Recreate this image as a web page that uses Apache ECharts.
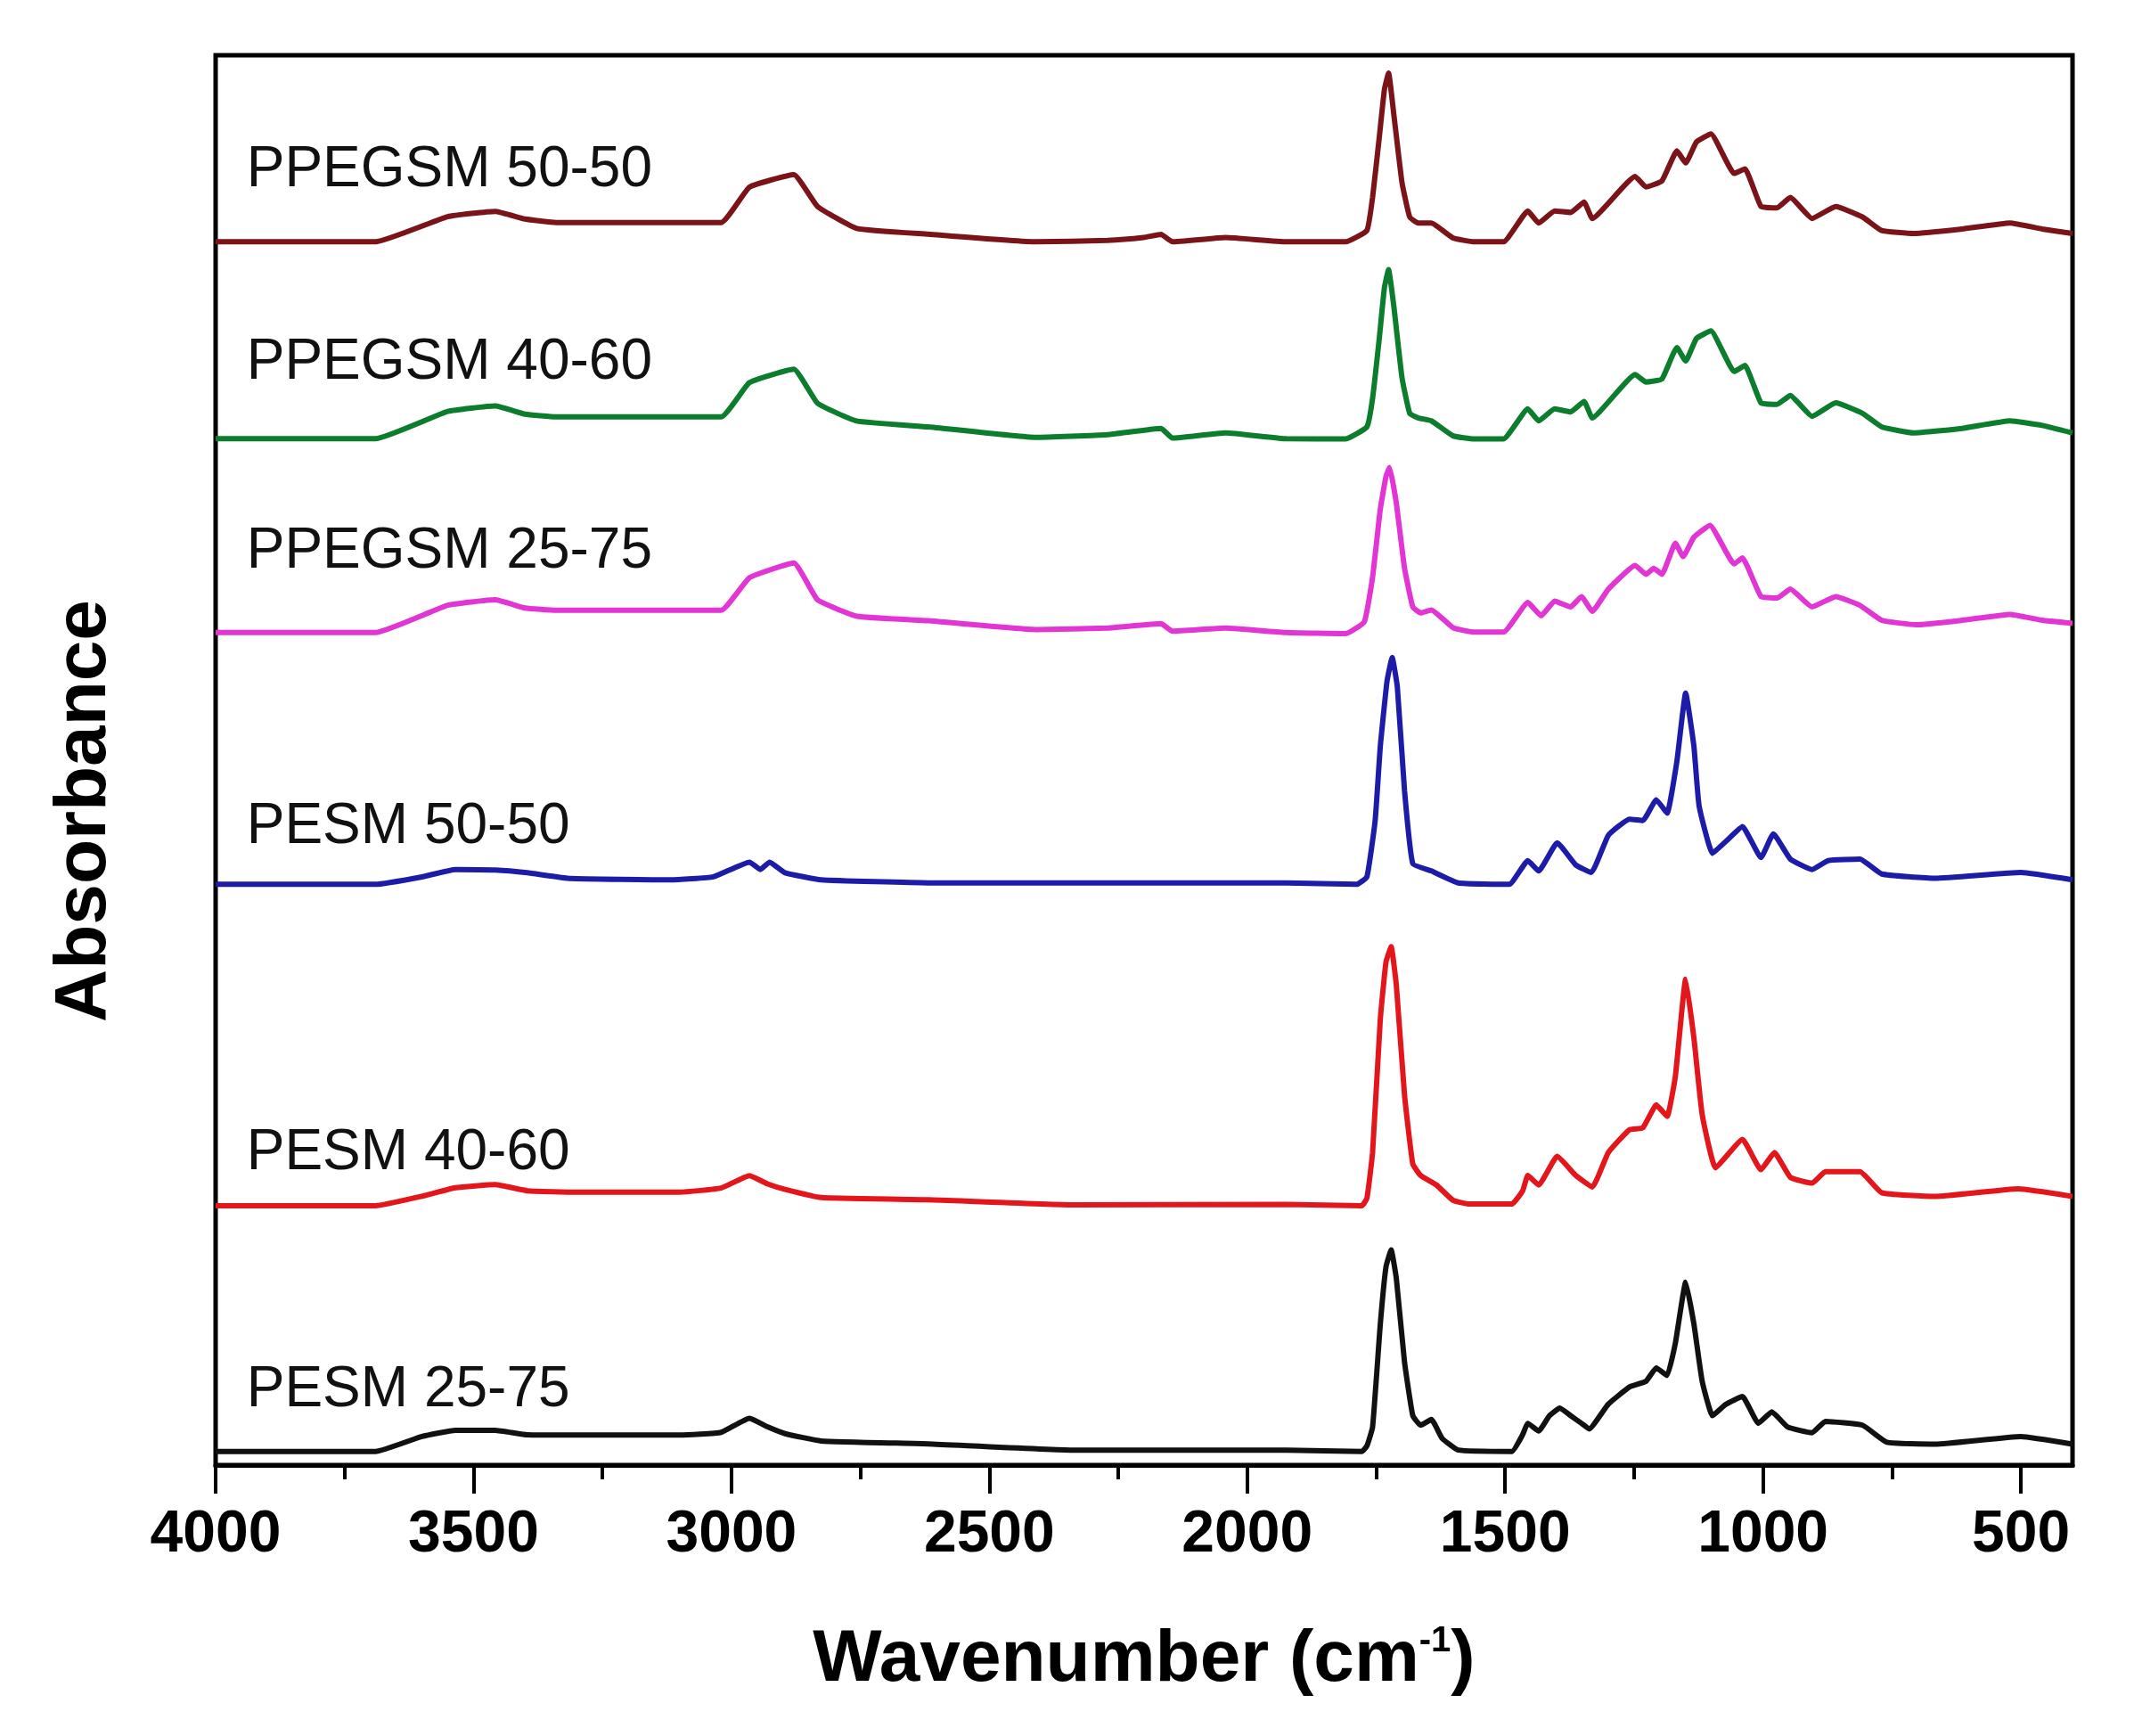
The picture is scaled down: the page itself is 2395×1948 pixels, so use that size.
<!DOCTYPE html>
<html>
<head>
<meta charset="utf-8">
<title>FTIR spectra</title>
<script src="https://cdn.jsdelivr.net/npm/echarts@6/dist/echarts.min.js"></script>
<style>
	html, body { margin: 0; padding: 0; background: #fff; }
	#box { width: 2395px; height: 1948px; }
</style>
</head>
<body>
<div id="box"></div>
<script>
// [wavenumber (cm-1), absorbance (a.u., spectra stacked)]
var ppegsm5050 = [[4000,896.3],[3690,896.3],[3550,914.7],[3458,918.6],[3400,913],[3340,910.4],[3020,910.4],[2965,936.4],[2879,945.5],[2833,922.2],[2757,906.1],[2618,901.9],[2410,896.3],[2271,897.4],[2201,899.5],[2167,901.7],[2145,896.3],[2042,899.5],[1924,896.3],[1809,896.3],[1768,904.6],[1757,928.8],[1744,972.8],[1734,1007.9],[1726,1020],[1716,990.3],[1700,939.8],[1685,914.5],[1669,910.1],[1643,910.1],[1601,899.1],[1560,896.3],[1503,896.3],[1456,918.9],[1435,910.1],[1404,918.9],[1373,917.8],[1347,925.5],[1331,913.4],[1248,944.2],[1227,936.5],[1196,940.9],[1167,962.9],[1150,954.1],[1129,969.5],[1101,975.4],[1056,946.4],[1035,949.7],[1004,922.2],[973,921.1],[947,928.8],[905,913.4],[859,922.2],[807,914.5],[770,904.6],[708,902.4],[614,905.7],[521,910.1],[459,905.7],[400,902.4]];
var ppegsm4060 = [[4000,752],[3690,752],[3550,772],[3458,776],[3400,770],[3340,768],[3020,768],[2965,793.2],[2879,803],[2833,778],[2757,765],[2618,760.7],[2410,753],[2271,755],[2167,759.6],[2145,752.5],[2042,756.3],[1924,752],[1809,751.9],[1768,760.7],[1757,781.6],[1744,825.5],[1734,862.9],[1726,876],[1716,849.7],[1700,796.9],[1685,770.6],[1669,767.3],[1643,765.1],[1601,754.1],[1560,751.9],[1503,751.9],[1456,773.9],[1435,765.1],[1404,773.9],[1373,771.7],[1347,779.4],[1331,767.3],[1248,799.1],[1227,793.6],[1196,795.8],[1167,818.9],[1150,809],[1129,825.5],[1101,831],[1056,801.3],[1035,805.7],[1004,778.3],[973,777.2],[947,783.7],[905,768.4],[859,778.3],[807,770.6],[770,760.7],[708,756.3],[614,759.6],[521,765.1],[459,761.8],[400,756.3]];
var ppegsm2575 = [[4000,610],[3690,610],[3550,630],[3458,634],[3400,628],[3340,626.3],[3020,626.3],[2965,650.2],[2879,661],[2833,634],[2757,622],[2618,618.7],[2410,612.2],[2271,613.3],[2167,616.5],[2145,611],[2042,613.3],[1924,610],[1809,609.2],[1773,617.9],[1757,650.5],[1742,700.5],[1731,724.4],[1724,731],[1711,704.9],[1695,657],[1679,628.8],[1664,624.4],[1643,626.6],[1601,613.6],[1560,610.3],[1503,610.3],[1456,632],[1430,622.3],[1404,633.1],[1373,628.8],[1352,636.4],[1331,625.5],[1300,641.8],[1248,659.2],[1227,652.7],[1212,657],[1196,652.7],[1170,675.5],[1155,665.7],[1134,679.9],[1103,688.6],[1056,660.3],[1040,664.7],[1004,636.4],[973,635.3],[947,641.8],[905,628.8],[859,636.4],[812,629.9],[770,619],[703,615.7],[614,619],[521,623.3],[459,619],[400,616.8]];
var pesm5050 = [[4000,425.5],[3690,425.5],[3600,431],[3535,436.4],[3458,436],[3396,434],[3312,429.8],[3118,428.8],[3035,431],[2965,441.8],[2944,436.4],[2926,441.8],[2896,434],[2826,428.8],[2618,426.6],[1924,426.6],[1788,425.5],[1768,431],[1752,472.3],[1742,526.6],[1729,574.4],[1719,591.8],[1709,570.1],[1695,494],[1679,440.7],[1643,435.3],[1591,426.6],[1492,425.5],[1456,442.9],[1435,435.3],[1399,456],[1363,439.7],[1333,434.2],[1300,461.4],[1259,473.3],[1233,472.3],[1207,487.5],[1186,477.7],[1167,515.7],[1150,565.7],[1134,526.6],[1124,483.1],[1098,448.3],[1072,457],[1040,467.9],[1004,445.1],[980,462.5],[947,444],[905,436.4],[874,442.9],[812,444],[770,433.1],[666,429.9],[500,434.2],[400,428.8]];
var pesm4060 = [[4000,190],[3690,190],[3600,197],[3535,203.2],[3458,205.5],[3396,201],[3300,200],[3100,200],[3020,203],[2965,212],[2930,206],[2896,202],[2826,196],[2618,194.4],[2340,190.7],[1924,191],[1778,190],[1768,195.5],[1757,229],[1742,326.7],[1731,368.6],[1721,379.8],[1711,351.9],[1695,270.9],[1679,220.6],[1664,212.2],[1633,205.2],[1601,194],[1570,191.3],[1487,191.3],[1466,201],[1456,212.2],[1435,205.2],[1399,226.2],[1363,212.2],[1331,203.8],[1300,229],[1259,245.7],[1233,247.1],[1207,263.9],[1186,255.5],[1170,284.8],[1150,356],[1134,312.8],[1118,256.9],[1092,217.8],[1040,238.7],[1004,216.4],[978,229],[947,210.8],[905,206.6],[879,215],[812,215],[770,199.6],[666,196.8],[505,202.4],[400,196.8]];
var pesm2575 = [[4000,10],[3690,10],[3600,21],[3535,25.5],[3458,25.5],[3396,22.2],[3300,22],[3100,22],[3020,24],[2965,34.3],[2930,28],[2896,23],[2826,17.7],[2618,15.5],[2340,11],[1924,11],[1778,10],[1768,14],[1757,27.8],[1742,103.3],[1731,145.2],[1721,157.7],[1711,137],[1695,75.3],[1679,36.2],[1664,29.2],[1643,33.4],[1622,19.5],[1591,11],[1487,10],[1466,22.3],[1456,30.6],[1435,25],[1414,36.2],[1394,41.8],[1373,36.2],[1352,30.6],[1337,26.5],[1300,44.6],[1259,57.2],[1227,61.4],[1207,71.2],[1186,65.6],[1170,89.3],[1150,134],[1134,103.3],[1118,61.4],[1098,36.2],[1072,44.6],[1040,50.2],[1009,30.6],[983,39],[952,27.8],[905,23.7],[879,32],[807,29.2],[760,16.7],[666,15.3],[500,20.9],[400,15.3]];

var sampleNames = ['PPEGSM 50-50', 'PPEGSM 40-60', 'PPEGSM 25-75', 'PESM 50-50', 'PESM 40-60', 'PESM 25-75'];
var sampleData = [ppegsm5050, ppegsm4060, ppegsm2575, pesm5050, pesm4060, pesm2575];
var majorTicks = [4000, 3500, 3000, 2500, 2000, 1500, 1000, 500];
var minorTicks = [3750, 3250, 2750, 2250, 1750, 1250, 750];

var lineColors = ['#7a1418', '#0b7d2c', '#e236d4', '#1c1ca8', '#e3161b', '#111111'];
// where each name sits: wavenumber of its left edge and level of its baseline
var labelAt = [[3940, 934], [3940, 793], [3940, 655], [3940, 453], [3940, 214], [3940, 40]];

bindData('box');

function bindData(eleIdName) {
	var myChart = echarts.init(document.getElementById(eleIdName));
	var font = 'Liberation Sans, Arial, sans-serif';

	var series = [];
	for (var i = 0; i < sampleData.length; i++) {
		series.push({
			name: sampleNames[i],
			type: 'line',
			data: sampleData[i],
			showSymbol: false,
			smooth: 0.12,
			lineStyle: { color: lineColors[i], width: 6 },
			z: 3
		});
	}

	var option = {
		animation: false,
		backgroundColor: '#fff',
		grid: {
			left: 242, right: 69, top: 62, bottom: 304,
			show: true, borderColor: '#000', borderWidth: 5
		},
		xAxis: [
			{
				type: 'value', inverse: true, min: 400, max: 4000,
				position: 'bottom',
				axisLine: { show: true, lineStyle: { color: '#000', width: 5 } },
				axisTick: { show: true, inside: false, length: 32, customValues: majorTicks, lineStyle: { color: '#000', width: 4 } },
				axisLabel: {
					show: true, customValues: majorTicks, margin: 46,
					formatter: function (v) { return String(v); },
					color: '#000', fontSize: 66, fontWeight: 'bold', fontFamily: font
				},
				splitLine: { show: false },
				name: 'Wavenumber (cm{sup|-1})',
				nameLocation: 'middle',
				nameGap: 178,
				nameTextStyle: {
					color: '#000', fontSize: 82, fontWeight: 'bold', fontFamily: font,
					rich: {
						sup: { fontSize: 40, fontWeight: 'bold', fontFamily: font, color: '#000', verticalAlign: 'top' }
					}
				}
			},
			{
				type: 'value', inverse: true, min: 400, max: 4000,
				position: 'bottom',
				axisLine: { show: false },
				axisTick: { show: true, inside: false, length: 16, customValues: minorTicks, lineStyle: { color: '#000', width: 4 } },
				axisLabel: { show: false },
				splitLine: { show: false }
			}
		],
		yAxis: {
			type: 'value', min: 0, max: 1033,
			axisLine: { show: false },
			axisTick: { show: false },
			axisLabel: { show: false },
			splitLine: { show: false }
		},
		series: series
	};
	myChart.setOption(option);

	var graphics = [{
		type: 'text',
		x: 95, y: 910,
		rotation: Math.PI / 2,
		style: {
			text: 'Absorbance',
			fill: '#000',
			font: 'bold 82px ' + font,
			align: 'center',
			verticalAlign: 'middle'
		}
	}];
	for (var k = 0; k < labelAt.length; k++) {
		var p = myChart.convertToPixel({ gridIndex: 0 }, labelAt[k]);
		graphics.push({
			type: 'text',
			x: p[0], y: p[1] - 22,
			style: {
				text: sampleNames[k],
				fill: '#111',
				font: '64px ' + font,
				align: 'left',
				verticalAlign: 'middle'
			}
		});
	}
	myChart.setOption({ graphic: graphics });
}
</script>
</body>
</html>
